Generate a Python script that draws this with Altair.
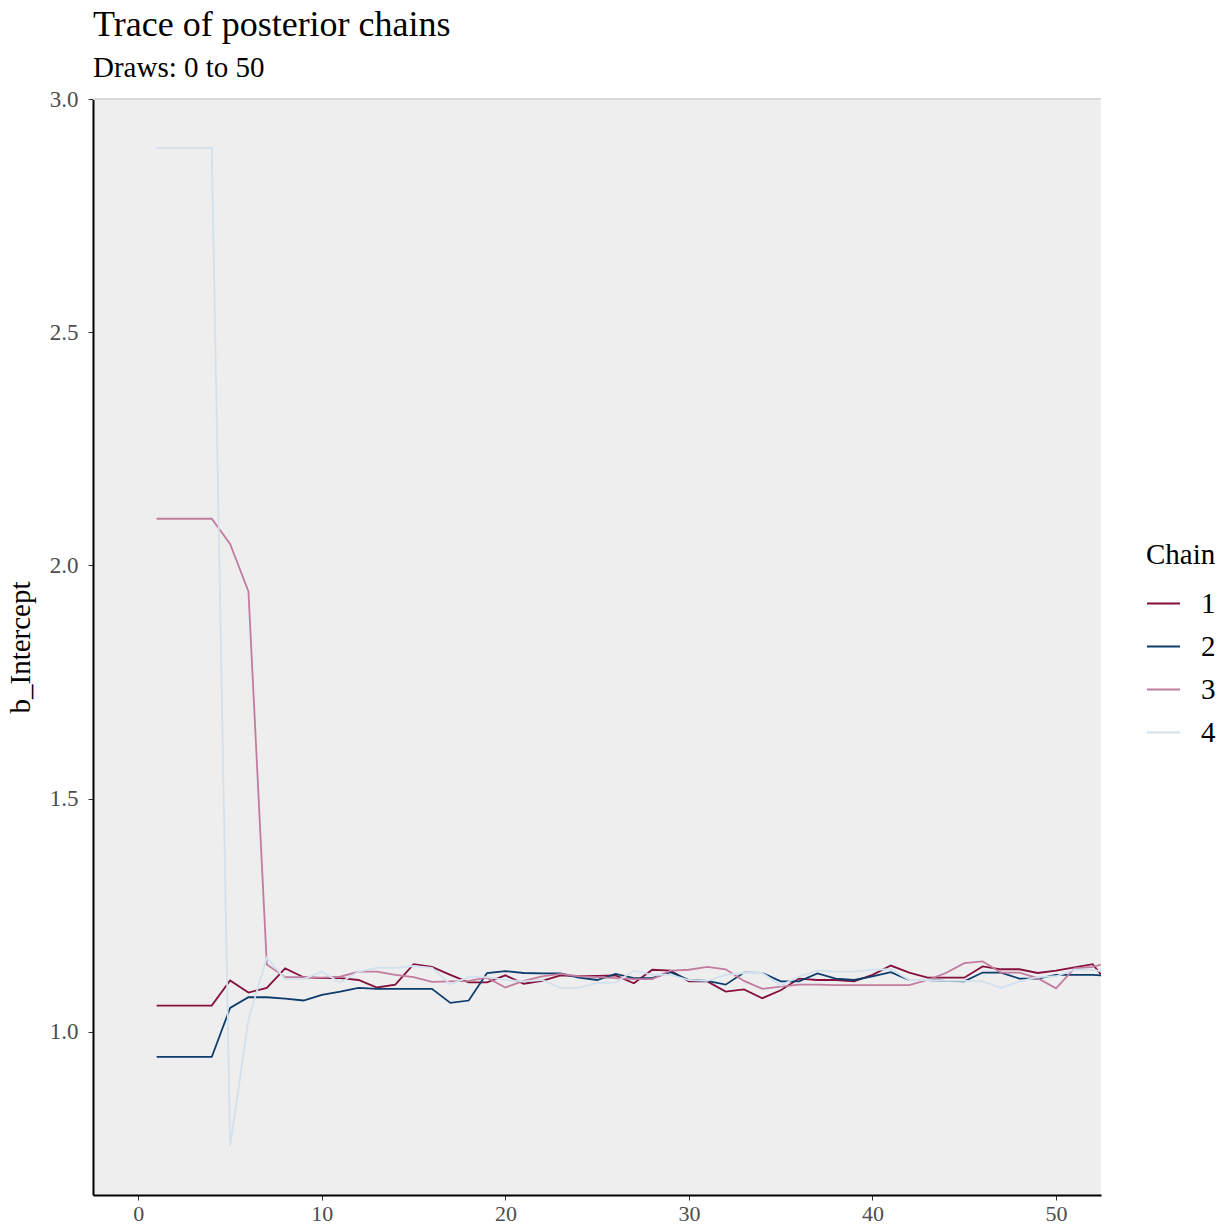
import altair as alt
import pandas as pd

# Posterior draws of b_Intercept for four MCMC chains (draws 1..53)
draws = list(range(1, 54))

chain_1 = [1.056, 1.056, 1.056, 1.056, 1.110, 1.084, 1.094, 1.136, 1.117, 1.115,
           1.115, 1.111, 1.095, 1.101, 1.145, 1.139, 1.122, 1.106, 1.106, 1.121,
           1.103, 1.109, 1.121, 1.119, 1.120, 1.121, 1.104, 1.133, 1.131, 1.108,
           1.108, 1.086, 1.091, 1.072, 1.089, 1.114, 1.111, 1.111, 1.108, 1.122,
           1.142, 1.127, 1.116, 1.116, 1.116, 1.140, 1.134, 1.134, 1.126, 1.131,
           1.138, 1.145, 1.095]
chain_2 = [0.946, 0.946, 0.946, 0.946, 1.051, 1.074, 1.074, 1.071, 1.067, 1.079,
           1.086, 1.094, 1.092, 1.092, 1.092, 1.092, 1.062, 1.067, 1.126, 1.130,
           1.126, 1.125, 1.125, 1.116, 1.111, 1.124, 1.115, 1.115, 1.128, 1.111,
           1.109, 1.101, 1.127, 1.126, 1.108, 1.108, 1.125, 1.114, 1.111, 1.119,
           1.128, 1.111, 1.111, 1.109, 1.108, 1.127, 1.127, 1.114, 1.114, 1.122,
           1.122, 1.122, 1.120]
chain_3 = [2.100, 2.100, 2.100, 2.100, 2.046, 1.944, 1.144, 1.117, 1.117, 1.116,
           1.118, 1.129, 1.129, 1.122, 1.117, 1.107, 1.108, 1.109, 1.116, 1.095,
           1.109, 1.119, 1.124, 1.119, 1.117, 1.115, 1.113, 1.113, 1.131, 1.133,
           1.139, 1.134, 1.109, 1.092, 1.097, 1.101, 1.101, 1.100, 1.100, 1.100,
           1.100, 1.100, 1.111, 1.126, 1.147, 1.151, 1.127, 1.127, 1.115, 1.093,
           1.136, 1.139, 1.150]
chain_4 = [2.895, 2.895, 2.895, 2.895, 0.755, 1.026, 1.159, 1.113, 1.113, 1.129,
           1.105, 1.129, 1.137, 1.137, 1.141, 1.137, 1.102, 1.117, 1.117, 1.111,
           1.108, 1.111, 1.094, 1.094, 1.105, 1.106, 1.131, 1.122, 1.122, 1.111,
           1.109, 1.122, 1.126, 1.126, 1.099, 1.119, 1.131, 1.129, 1.129, 1.133,
           1.134, 1.111, 1.111, 1.109, 1.109, 1.108, 1.094, 1.108, 1.117, 1.119,
           1.133, 1.133, 1.125]

chain_names = ["1", "2", "3", "4"]
chain_colors = ["#850f3d", "#0c3d6d", "#c27c9e", "#d2e1ed"]

rows = []
for name, values in zip(chain_names, [chain_1, chain_2, chain_3, chain_4]):
    for d, v in zip(draws, values):
        rows.append({"draw": d, "value": v, "Chain": name})
df = pd.DataFrame(rows)

FONT = "Liberation Serif"
W, H = 1008, 1096

lines = alt.Chart(df).mark_line(strokeWidth=1.8, clip=True).encode(
    x=alt.X("draw:Q",
            scale=alt.Scale(domain=[-2.47, 52.45], nice=False, zero=False),
            axis=alt.Axis(values=[0, 10, 20, 30, 40, 50], title=None, grid=False,
                          format="d")),
    y=alt.Y("value:Q",
            scale=alt.Scale(domain=[0.65, 3.0], nice=False, zero=False),
            axis=alt.Axis(values=[1.0, 1.5, 2.0, 2.5, 3.0], format=".1f",
                          title="b_Intercept", grid=False)),
    color=alt.Color("Chain:N",
                    scale=alt.Scale(domain=chain_names, range=chain_colors),
                    legend=alt.Legend(orient="none", legendX=1053, legendY=442,
                                      symbolType="stroke", symbolSize=1089,
                                      symbolStrokeWidth=2, labelOffset=20,
                                      rowPadding=10, titlePadding=16)),
    order=alt.Order("draw:Q"),
)

# light rule along the top edge of the panel
top_edge = alt.Chart(pd.DataFrame({"a": [0]})).mark_rule(
    color="#d9d9d9", strokeWidth=2
).encode(x=alt.value(0), x2=alt.value(W), y=alt.value(0))

chart = alt.layer(top_edge, lines).properties(
    width=W,
    height=H,
    title=alt.TitleParams(
        "Trace of posterior chains",
        subtitle="Draws: 0 to 50",
        anchor="start",
        frame="group",
        font=FONT,
        fontSize=36,
        fontWeight="normal",
        color="#000000",
        subtitleFont=FONT,
        subtitleFontSize=29,
        subtitleColor="#000000",
        subtitlePadding=10,
        offset=4,
    ),
    autosize=alt.AutoSizeParams(type="none"),
    padding={"left": 93, "top": 99, "right": 126, "bottom": 33},
    background="white",
).configure_view(
    fill="#eeeeee", stroke=None
).configure_axis(
    domainColor="#000000",
    domainWidth=2,
    tickColor="#333333",
    tickWidth=1,
    tickSize=5,
    labelFont=FONT,
    labelFontSize=23,
    labelColor="#4d4d4d",
    titleFont=FONT,
    titleFontSize=29,
    titleFontWeight="normal",
    titleColor="#000000",
).configure_axisY(
    labelPadding=10,
    titlePadding=14,
).configure_axisX(
    labelPadding=3,
    labelFontSize=22,
).configure_legend(
    titleFont=FONT,
    titleFontSize=29,
    titleFontWeight="normal",
    titleColor="#000000",
    labelFont=FONT,
    labelFontSize=29,
    labelColor="#000000",
)

chart.save("out.html", embed_options={"renderer": "svg", "actions": False})
